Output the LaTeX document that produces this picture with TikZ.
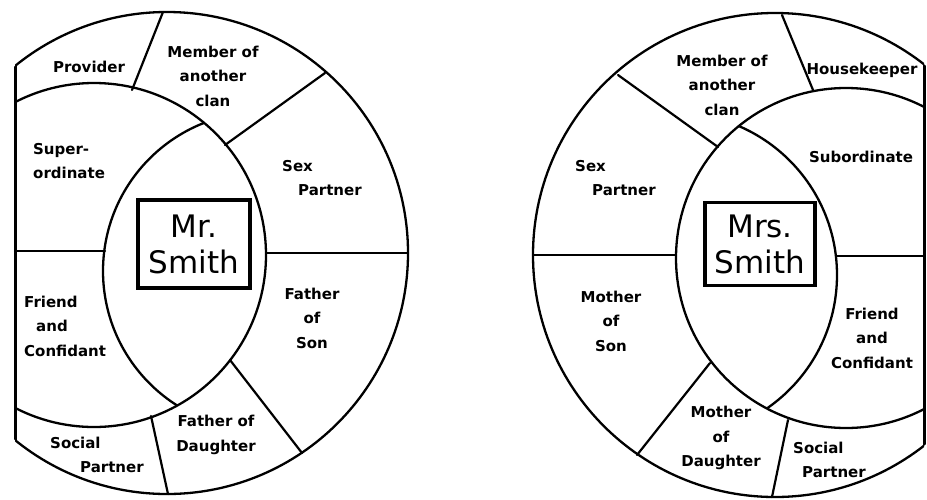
\documentclass[tikz,border=0pt]{standalone}
\usepackage{fontspec}
\setmainfont{DejaVu Sans}
\newcommand{\rolefont}{\fontsize{15}{24.5}\selectfont\bfseries}
\newcommand{\namefont}{\fontsize{31}{36}\selectfont}

\begin{document}
\begin{tikzpicture}[
  x=1pt,
  y=-1pt,
  every node/.style={font=\rolefont, inner sep=0pt},
  ring/.style={line width=2.3pt},
  rim/.style={line width=3pt},
  divider/.style={line width=2.2pt, line cap=round},
  namebox/.style={draw, line width=3.5pt, font=\namefont, align=center},
  role/.style={align=center},
  roleleft/.style={align=left, anchor=west}
]
  \useasboundingbox (0,0) rectangle (927,499);

  % ---- Mr. Smith: three rings, cut straight on the left ------------------
  \begin{scope}
    \clip (15,0) rectangle (420,499);
    \draw[ring] (167,253) circle[radius=241];
    \draw[ring] (94,255) circle[radius=172];
    % the lens round the name is the second ring cut by a third one
    \clip (94,255) circle[radius=172];
    \draw[ring] (262,271) circle[radius=159];
  \end{scope}
  \begin{scope}
    \clip (167,253) circle[radius=241];
    \draw[rim] (15,0) -- (15,499);
  \end{scope}

  \draw[divider] (163,12) -- (132,90);
  \draw[divider] (325,73) -- (225,145);
  \draw[divider] (15,251) -- (105,251);
  \draw[divider] (267,253) -- (408,253);
  \draw[divider] (230,360) -- (302,453);
  \draw[divider] (151,416) -- (168,494);

  \node[namebox, minimum width=112, minimum height=88] (mr) at (194,244)
    {Mr.\\Smith};

  \node[role] (mrprov) at (89,67) {Provider};
  \node[role] (mrclan) at (213,76) {Member of\\another\\clan};
  \node[roleleft] (mrsuper) at (33,161) {Super-\\ordinate};
  \node[roleleft] (mrsex) at (282,178) {Sex\\\hspace*{16pt}Partner};
  \node[roleleft] (mrfriend) at (24,326)
    {Friend\\\hspace*{12pt}and\\Confidant};
  \node[role] (mrson) at (312,318) {Father\\of\\Son};
  \node[role] (mrdaughter) at (216,435) {Father of\\Daughter};
  \node[roleleft] (mrsocial) at (50,455) {Social\\\hspace*{30pt}Partner};

  % ---- Mrs. Smith: the same, mirrored, cut straight on the right ---------
  \begin{scope}
    \clip (520,0) rectangle (924,499);
    \draw[ring] (775,255) circle[radius=242];
    \draw[ring] (846,258) circle[radius=170];
    \clip (846,258) circle[radius=170];
    \draw[ring] (675,275) circle[radius=162];
  \end{scope}
  \begin{scope}
    \clip (775,255) circle[radius=242];
    \draw[rim] (924,0) -- (924,499);
  \end{scope}

  \draw[divider] (782,15) -- (813,90);
  \draw[divider] (618,75) -- (718,147);
  \draw[divider] (533,255) -- (676,255);
  \draw[divider] (836,256) -- (924,256);
  \draw[divider] (710,363) -- (637,455);
  \draw[divider] (788,420) -- (772,497);

  \node[namebox, minimum width=110, minimum height=83] (mrs) at (760,244)
    {Mrs.\\Smith};

  \node[role] (mrsclan) at (722,85) {Member of\\another\\clan};
  \node[role] (mrskeeper) at (862,70) {Housekeeper};
  \node[roleleft] (mrssex) at (575,178) {Sex\\\hspace*{17pt}Partner};
  \node[role] (mrssub) at (861,157) {Subordinate};
  \node[role] (mrsson) at (611,321) {Mother\\of\\Son};
  \node[role] (mrsfriend) at (872,338) {Friend\\and\\Confidant};
  \node[role] (mrsdaughter) at (721,438) {Mother\\of\\Daughter};
  \node[roleleft] (mrssocial) at (793,460) {Social\\\hspace*{9pt}Partner};
\end{tikzpicture}
\end{document}
